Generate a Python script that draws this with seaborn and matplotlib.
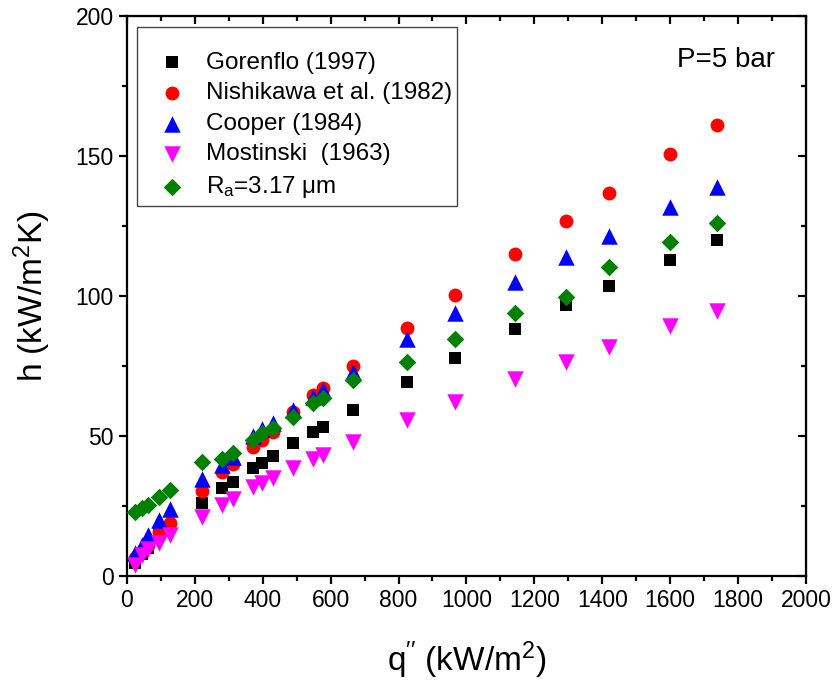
import matplotlib
matplotlib.use('Agg')
import numpy as np
import pandas as pd
import matplotlib.pyplot as plt
import seaborn as sns
from matplotlib.ticker import MultipleLocator
from matplotlib.patches import Rectangle

# heat flux q'' (kW/m2), same for every series
q = [24, 43, 62, 94, 126, 220, 279, 311, 370, 399, 429, 489, 547, 577,
     666, 826, 965, 1143, 1292, 1420, 1599, 1738]

# heat transfer coefficient h (kW/m2K)
h_gorenflo = [4.6, 8.0, 10.0, 15.0, 17.5, 26.2, 31.3, 33.7, 38.5, 40.5, 42.9, 47.4,
              51.5, 53.3, 59.3, 69.4, 77.9, 88.2, 96.8, 103.6, 112.9, 120.0]
h_nishikawa = [6.5, 9.0, 11.0, 15.8, 18.9, 30.5, 37.3, 40.0, 46.2, 48.6, 51.5, 58.7,
               64.6, 67.0, 75.0, 88.6, 100.4, 115.0, 126.9, 136.9, 150.7, 161.1]
h_cooper = [8.1, 11.0, 14.6, 20.0, 23.9, 34.6, 39.6, 42.6, 50.0, 52.4, 54.5, 59.3,
            64.0, 66.4, 73.0, 84.6, 93.8, 105.1, 114.0, 121.5, 131.7, 139.0]
h_mostinski = [4.0, 7.5, 9.6, 11.7, 14.6, 21.2, 25.4, 27.4, 31.7, 33.1, 34.9, 38.5,
               41.7, 43.2, 48.0, 55.7, 62.3, 70.3, 76.5, 81.9, 89.3, 94.6]
h_exp = [23.0, 24.3, 25.4, 28.3, 30.7, 40.8, 41.7, 43.8, 48.6, 51.0, 52.7, 56.9,
         61.9, 63.5, 70.0, 76.5, 84.6, 93.8, 99.8, 110.3, 119.4, 126.2]

labels = ['Gorenflo (1997)', 'Nishikawa et al. (1982)', 'Cooper (1984)',
          'Mostinski  (1963)', 'R$_a$=3.17 \u03bcm']
colors = ['#000000', '#ff0000', '#0000ff', '#ff00ff', '#008000']
markers = ['s', 'o', '^', 'v', 'D']
sizes = [85, 100, 140, 140, 80]
h_all = [h_gorenflo, h_nishikawa, h_cooper, h_mostinski, h_exp]

df = pd.concat([pd.DataFrame({'q': q, 'h': h, 'serie': lab})
                for h, lab in zip(h_all, labels)], ignore_index=True)

sns.set_style('ticks')
plt.rcParams['font.family'] = ['Liberation Sans', 'DejaVu Sans']
plt.rcParams['mathtext.fontset'] = 'custom'
plt.rcParams['mathtext.rm'] = 'Liberation Sans'
plt.rcParams['mathtext.it'] = 'Liberation Sans:italic'
plt.rcParams['mathtext.default'] = 'regular'
for k in ['text.color', 'axes.labelcolor', 'xtick.color', 'ytick.color', 'axes.edgecolor']:
    plt.rcParams[k] = 'black'

fig = plt.figure(figsize=(8.35, 6.87), dpi=100)
ax = fig.add_axes([0.152, 0.1616, 0.8132, 0.8151])

for lab, c, m, s in zip(labels, colors, markers, sizes):
    sns.scatterplot(data=df[df.serie == lab], x='q', y='h', color=c, marker=m,
                    s=s, linewidth=0, label=lab, ax=ax, zorder=3)

ax.set_xlim(0, 2000)
ax.set_ylim(0, 200)
ax.xaxis.set_major_locator(MultipleLocator(200))
ax.xaxis.set_minor_locator(MultipleLocator(100))
ax.yaxis.set_major_locator(MultipleLocator(50))
ax.yaxis.set_minor_locator(MultipleLocator(25))

for sp in ax.spines.values():
    sp.set_visible(True)
    sp.set_linewidth(1.6)
ax.tick_params(which='major', direction='out', length=6, width=1.6, labelsize=16.5)
ax.tick_params(which='minor', direction='out', length=3.5, width=1.6)

# mirrored ticks pointing inward on top and right
top = ax.secondary_xaxis('top')
top.xaxis.set_major_locator(MultipleLocator(200))
top.xaxis.set_minor_locator(MultipleLocator(100))
top.tick_params(which='major', direction='in', length=6, width=1.6, labeltop=False)
top.tick_params(which='minor', direction='in', length=3.5, width=1.6)
right = ax.secondary_yaxis('right')
right.yaxis.set_major_locator(MultipleLocator(50))
right.yaxis.set_minor_locator(MultipleLocator(25))
right.tick_params(which='major', direction='in', length=6, width=1.6, labelright=False)
right.tick_params(which='minor', direction='in', length=3.5, width=1.6)

ax.set_xlabel(r'q$^{\prime\prime}$ (kW/m$^2$)', fontsize=24, labelpad=20)
ax.set_ylabel('h (kW/m$^2$K)', fontsize=24, labelpad=16)

ax.text(0.882, 0.921, 'P=5 bar', transform=ax.transAxes, fontsize=20,
        ha='center', va='center')

# legend box drawn separately (more padding on top/bottom than on the sides)
ax.add_patch(Rectangle((0.0147, 0.661), 0.4713, 0.319, transform=ax.transAxes,
                       facecolor='white', edgecolor='#444444', linewidth=1.0,
                       zorder=4))
leg = ax.legend(loc='upper left', bbox_to_anchor=(0.0375, 0.936), borderaxespad=0,
                fontsize=17.5, frameon=False, borderpad=0, handlelength=1.6,
                handletextpad=0.6, labelspacing=0.35)
leg.set_zorder(5)

fig.savefig('out.png', dpi=100)
